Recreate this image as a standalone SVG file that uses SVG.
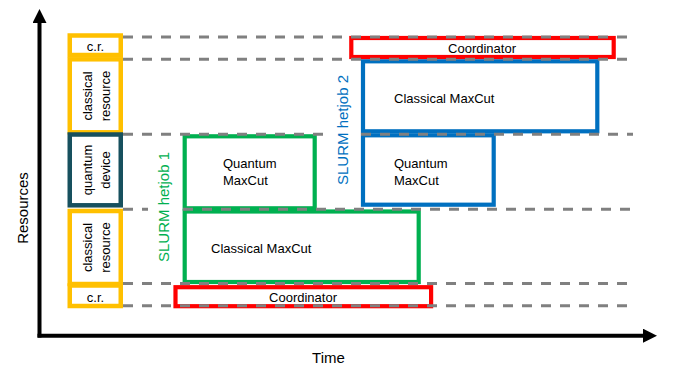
<svg xmlns="http://www.w3.org/2000/svg" width="675" height="367" viewBox="0 0 675 367">
<style>
text{font-family:"Liberation Sans",Arial,sans-serif;fill:#000}
.t13{font-size:13px}
.t15{font-size:15px}
.mid{text-anchor:middle}
.box{fill:#fff;stroke-width:4.5}
.yel{stroke:#FFC000}
.teal{stroke:#17505E}
.grn{stroke:#00B050;fill:none;stroke-width:4.2}
.blu{stroke:#0070C0;fill:none;stroke-width:4.2}
.red{stroke:#FF0000;fill:#fff;stroke-width:4.2}
.dash{stroke:#808080;stroke-width:3;stroke-dasharray:10 9;fill:none}
.axis{stroke:#000;stroke-width:4;fill:none}
</style>
<defs>
<marker id="ah" markerUnits="userSpaceOnUse" markerWidth="14" markerHeight="14" viewBox="0 0 14 14" refX="0" refY="7" orient="auto">
<path d="M0,0 L14,7 L0,14 Z" fill="#000"/>
</marker>
</defs>

<g id="axes">
<path class="axis" d="M39.5,337.5 L39.5,23" marker-end="url(#ah)"/>
<path class="axis" d="M37.5,335.7 L643,335.7" marker-end="url(#ah)"/>
<text class="t15 mid" transform="translate(27.5,208) rotate(-90)">Resources</text>
<text class="t15 mid" x="328.5" y="363">Time</text>
</g>

<g id="res-cr-top">
<rect class="box yel" x="69.75" y="35.5" width="51" height="19.5"/>
<text class="t13 mid" x="95.5" y="51">c.r.</text>
</g>
<g id="res-classical-top">
<rect class="box yel" x="69.75" y="59.3" width="51" height="73"/>
<text class="t13 mid" transform="translate(91.5,96) rotate(-90)">classical</text>
<text class="t13 mid" transform="translate(109.5,96) rotate(-90)">resource</text>
</g>
<g id="res-quantum">
<rect class="box teal" x="69.75" y="134.5" width="51" height="70.8"/>
<text class="t13 mid" transform="translate(91.5,170) rotate(-90)">quantum</text>
<text class="t13 mid" transform="translate(109.5,170) rotate(-90)">device</text>
</g>
<g id="res-classical-bottom">
<rect class="box yel" x="69.75" y="211" width="51" height="73"/>
<text class="t13 mid" transform="translate(91.5,247.5) rotate(-90)">classical</text>
<text class="t13 mid" transform="translate(109.5,247.5) rotate(-90)">resource</text>
</g>
<g id="res-cr-bottom">
<rect class="box yel" x="69.75" y="285.5" width="51" height="20.5"/>
<text class="t13 mid" x="95.5" y="301.5">c.r.</text>
</g>

<g id="job1-quantum">
<rect class="grn" x="184.7" y="136.3" width="130" height="72"/>
<text class="t13" x="223" y="168">Quantum</text>
<text class="t13" x="223" y="185">MaxCut</text>
</g>
<g id="job1-classical">
<rect class="grn" x="184.7" y="211.5" width="234" height="70.5"/>
<text class="t13" x="211" y="253">Classical MaxCut</text>
</g>
<g id="job1-coordinator">
<rect class="red" x="175.5" y="287.2" width="255.6" height="19"/>
<text class="t13 mid" x="303" y="301.5">Coordinator</text>
</g>

<g id="job2-classical">
<rect class="blu" x="363" y="61.3" width="234.3" height="70"/>
<text class="t13" x="394" y="103">Classical MaxCut</text>
</g>
<g id="job2-quantum">
<rect class="blu" x="363" y="135.3" width="130.7" height="69.4"/>
<text class="t13" x="394" y="168">Quantum</text>
<text class="t13" x="394" y="185">MaxCut</text>
</g>
<g id="job2-coordinator">
<rect class="red" x="351.3" y="38" width="262.4" height="19"/>
<text class="t13 mid" x="482" y="52.5">Coordinator</text>
</g>

<g id="connectors">
<path class="dash" d="M123,37 H633 M123,59.3 H633 M123,134.3 H329 M361,134.3 H633 M123,209.3 H148 M183,209.3 H633 M123,283.5 H633 M123,305.8 H633"/>
</g>

<g id="job1-label">
<text class="t15 mid" style="fill:#00B050" transform="translate(169,207) rotate(-90)">SLURM hetjob 1</text>
</g>
<g id="job2-label">
<text class="t15 mid" style="fill:#0070C0" transform="translate(348,130) rotate(-90)">SLURM hetjob 2</text>
</g>
</svg>
